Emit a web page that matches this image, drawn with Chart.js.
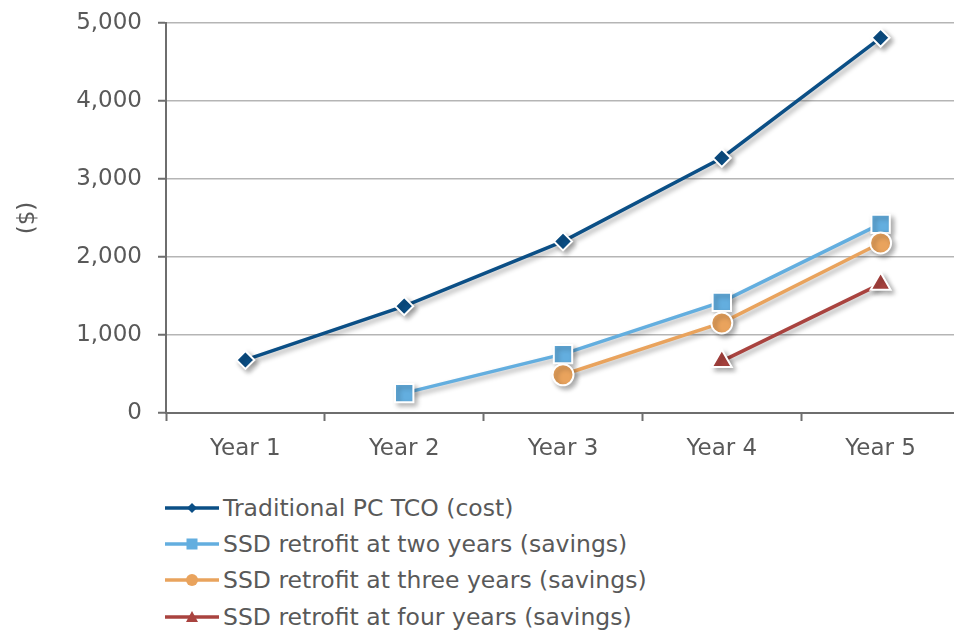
<!DOCTYPE html>
<html>
<head>
<meta charset="utf-8">
<script src="https://cdn.jsdelivr.net/npm/chart.js@4/dist/chart.umd.min.js"></script>
<style>
  html, body { margin: 0; padding: 0; background: #fff; overflow: hidden; }
  #wrap { position: relative; width: 954px; height: 631px; overflow: hidden; }
  #tcoChart { position: absolute; left: 0; top: 0; }
  #legend { position: absolute; left: 165px; top: 489.5px; font-family: "DejaVu Sans", sans-serif; font-size: 23.5px; color: #595959; }
  #legend .row { height: 36.3px; display: flex; align-items: center; white-space: nowrap; }
  #legend svg { margin-right: 4px; }
</style>
</head>
<body>
<div id="wrap">
  <canvas id="tcoChart" width="975" height="470"></canvas>
  <div id="legend"></div>
</div>
<script>
/* ---------- data ---------- */
const years = ["Year 1", "Year 2", "Year 3", "Year 4", "Year 5"];
const traditionalTCO = [680, 1370, 2200, 3270, 4810];
const retrofitTwo    = [null, 255, 755, 1425, 2425];
const retrofitThree  = [null, null, 490, 1155, 2180];
const retrofitFour   = [null, null, null, 665, 1655];
const seriesNames = [
    "Traditional PC TCO (cost)",
    "SSD retrofit at two years (savings)",
    "SSD retrofit at three years (savings)",
    "SSD retrofit at four years (savings)"
];
const yTicks = [0, 1000, 2000, 3000, 4000, 5000];

/* ---------- styles ---------- */
const colors = ["#0B4F86", "#63AEDF", "#E9A35D", "#A9433F"];
const markers = ["rectRot", "rect", "circle", "triangle"];
const markerSize = [9, 13, 10.5, 11.5];
const fontFamily = '"DejaVu Sans", sans-serif';

const seriesData = [traditionalTCO, retrofitTwo, retrofitThree, retrofitFour];

// soft drop shadow under lines + markers
const shadowPlugin = {
    id: "shadow",
    beforeDatasetsDraw(chart) {
        const ctx = chart.ctx;
        ctx.save();
        ctx.shadowColor = "rgba(0,0,0,0.32)";
        ctx.shadowBlur = 5;
        ctx.shadowOffsetX = 3;
        ctx.shadowOffsetY = 3;
    },
    afterDatasetsDraw(chart) {
        chart.ctx.restore();
    }
};

const ctx = document.getElementById("tcoChart").getContext("2d");
new Chart(ctx, {
    type: "line",
    data: {
        labels: years,
        datasets: seriesData.map((d, i) => ({
            label: seriesNames[i],
            data: d,
            borderColor: colors[i],
            backgroundColor: colors[i],
            borderWidth: 3.5,
            pointStyle: markers[i],
            pointRadius: markerSize[i],
            pointBackgroundColor: colors[i],
            pointBorderColor: "#ffffff",
            pointBorderWidth: 2,
            tension: 0,
            fill: false,
            order: 3 - i
        }))
    },
    options: {
        responsive: false,
        animation: false,
        layout: { padding: { top: 23, right: 11, left: 0, bottom: 0 } },
        plugins: {
            legend: { display: false },
            tooltip: { enabled: false }
        },
        scales: {
            x: {
                offset: true,
                grid: {
                    offset: true,
                    drawOnChartArea: false,
                    tickLength: 8,
                    tickColor: "#6e6e6e",
                    tickWidth: 2
                },
                border: { color: "#6e6e6e", width: 2 },
                ticks: {
                    color: "#595959",
                    font: { family: fontFamily, size: 23 },
                    padding: 14
                },
                afterFit(scale) {
                    scale.height = 57;
                    scale.paddingLeft = 0;
                    scale.paddingRight = 0;
                }
            },
            y: {
                min: 0,
                max: 5000,
                afterBuildTicks(scale) { scale.ticks = yTicks.map(v => ({ value: v })); },
                grid: {
                    color: "#b5b5b5",
                    lineWidth: 1.5,
                    tickLength: 8,
                    tickColor: "#6e6e6e",
                    tickWidth: 2
                },
                border: { color: "#6e6e6e", width: 2 },
                ticks: {
                    color: "#595959",
                    font: { family: fontFamily, size: 23 },
                    padding: 16,
                    callback: v => v.toLocaleString("en-US")
                },
                title: {
                    display: true,
                    text: "($)",
                    color: "#595959",
                    font: { family: fontFamily, size: 23 },
                    padding: { top: 14, bottom: 0 }
                },
                afterFit(scale) {
                    scale.width = 166;
                    scale.paddingTop = 10;
                    scale.paddingBottom = 10;
                }
            }
        }
    },
    plugins: [shadowPlugin]
});

/* ---------- legend (vertical list under the chart) ---------- */
function markerSvg(i) {
    const c = colors[i];
    let shape = "";
    if (markers[i] === "rectRot") shape = `<polygon points="27,6 32,11 27,16 22,11" fill="${c}"/>`;
    if (markers[i] === "rect") shape = `<rect x="21.5" y="5.5" width="11" height="11" fill="${c}"/>`;
    if (markers[i] === "circle") shape = `<circle cx="27" cy="11" r="6" fill="${c}"/>`;
    if (markers[i] === "triangle") shape = `<polygon points="27,5 33,16 21,16" fill="${c}"/>`;
    return `<svg width="54" height="22" viewBox="0 0 54 22">
        <line x1="0" y1="11" x2="54" y2="11" stroke="${c}" stroke-width="3.5"/>${shape}</svg>`;
}
document.getElementById("legend").innerHTML = seriesNames
    .map((n, i) => `<div class="row">${markerSvg(i)}<span>${n}</span></div>`)
    .join("");
</script>
</body>
</html>
